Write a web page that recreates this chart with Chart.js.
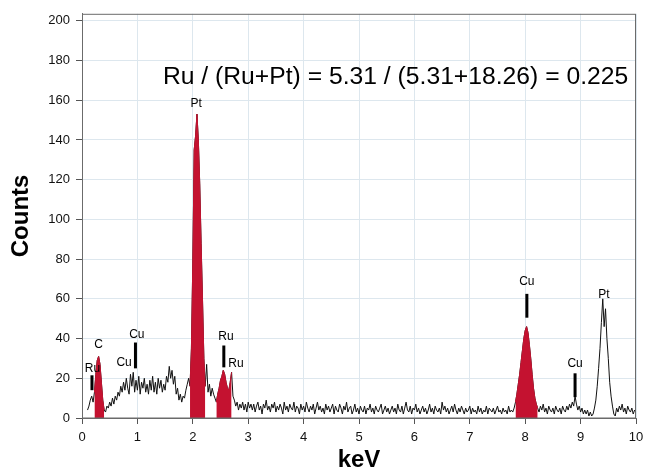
<!DOCTYPE html>
<html>
<head>
<meta charset="utf-8">
<title>EDS spectrum</title>
<script src="https://cdn.jsdelivr.net/npm/chart.js@4.4.1/dist/chart.umd.min.js"></script>
<style>
  body { margin: 0; background: #fff; }
  canvas { display: block; }
</style>
</head>
<body>
<canvas id="edsChart" width="650" height="472"></canvas>
<script>
// spectrum channels: energy of first channel and channel width (keV)
const energyStart = 0.1;
const energyStep = 0.025;

// counts per channel, one row = 0.5 keV
const counts = [
    4, 6, 9, 11, 8, 13, 22, 29, 31, 27, 18, 9, 4, 3, 6, 5, 8, 6, 10, 7,            // 0.10
    11, 9, 13, 11, 16, 13, 18, 14, 20, 15, 12, 22, 16, 23, 13, 19, 14, 21, 12, 18, // 0.60
    15, 20, 13, 17, 12, 19, 14, 21, 13, 18, 12, 20, 15, 19, 13, 17, 14, 21, 18, 26, // 1.10
    20, 24, 17, 21, 12, 15, 9, 12, 8, 11, 10, 14, 17, 20, 16, 35, 78, 135, 142, 153, // 1.60
    140, 118, 88, 60, 30, 16, 27, 13, 17, 11, 15, 12, 10, 8, 12, 15, 19, 21, 24, 22, // 2.10
    18, 15, 14, 18, 23, 11, 9, 6, 8, 4, 7, 5, 8, 4, 7, 3, 8, 5, 7, 4,              // 2.60
    7, 3, 6, 8, 4, 6, 2, 7, 5, 9, 4, 6, 3, 7, 5, 8, 3, 6, 4, 7,                    // 3.10
    5, 2, 8, 4, 6, 3, 7, 5, 4, 8, 3, 6, 5, 2, 7, 4, 6, 3, 8, 5,                    // 3.60
    3, 6, 4, 7, 2, 5, 8, 4, 6, 3, 5, 2, 7, 4, 6, 3, 5, 7, 2, 6,                    // 4.10
    4, 3, 7, 5, 2, 6, 4, 8, 3, 5, 6, 2, 4, 7, 3, 5, 2, 6, 4, 3,                    // 4.60
    6, 2, 5, 4, 7, 3, 5, 2, 6, 4, 3, 5, 7, 2, 4, 6, 3, 5, 2, 4,                    // 5.10
    6, 3, 5, 2, 7, 4, 3, 6, 2, 5, 8, 4, 3, 6, 2, 5, 4, 7, 3, 5,                    // 5.60
    2, 4, 6, 3, 5, 2, 4, 7, 3, 5, 2, 6, 4, 3, 5, 2, 8, 4, 6, 3,                    // 6.10
    5, 2, 4, 6, 3, 7, 4, 2, 5, 3, 6, 4, 2, 5, 3, 4, 6, 2, 5, 3,                    // 6.60
    4, 2, 6, 3, 5, 2, 4, 3, 6, 2, 5, 4, 3, 5, 2, 4, 6, 3, 4, 2,                    // 7.10
    5, 3, 4, 2, 6, 3, 4, 3, 5, 8, 12, 17, 22, 28, 34, 40, 44, 46, 43, 37,          // 7.60
    30, 22, 15, 10, 7, 5, 3, 6, 4, 7, 3, 5, 2, 6, 4, 3, 5, 2, 6, 4,                // 8.10
    3, 5, 2, 6, 4, 3, 6, 4, 7, 5, 8, 6, 11, 7, 4, 6, 3, 5, 2, 4,                   // 8.60
    2, 4, 1, 3, 1, 2, 5, 9, 16, 25, 35, 48, 60, 46, 55, 40, 30, 18, 11, 6,         // 9.10
    2, 1, 5, 3, 6, 4, 7, 3, 5, 2, 6, 4, 3, 5, 2, 4, 3                               // 9.60
];

// integrated peak windows (keV) shown in red
const peakWindows = [[0.225, 0.4], [1.95, 2.225], [2.425, 2.7], [7.825, 8.225]];

// element labels: [text, keV, counts]
const peakLabels = [
    ['Ru', 0.19, 25], ['C', 0.3, 37], ['Cu', 0.76, 28], ['Cu', 0.99, 42],
    ['Pt', 2.06, 158], ['Ru', 2.6, 41], ['Ru', 2.78, 27.5],
    ['Cu', 8.03, 68.5], ['Cu', 8.9, 27.5], ['Pt', 9.42, 62]
];

// line marker bars: [keV, top count, bottom count]
const lineMarkers = [
    [0.18, 21.5, 14], [0.965, 38, 25], [2.56, 36.5, 25.5], [8.03, 62.5, 50.5], [8.9, 22.5, 10.5]
];

// ratio note, spanning these energies at this count level
const ratioText = 'Ru / (Ru+Pt) = 5.31 / (5.31+18.26) = 0.225';
const ratioSpan = [1.46, 9.86];
const ratioLevel = 171.5;

const xTickValues = [0, 1, 2, 3, 4, 5, 6, 7, 8, 9, 10];
const yTickValues = [0, 20, 40, 60, 80, 100, 120, 140, 160, 180, 200];

const FONT = '"Liberation Sans", Arial, sans-serif';

const spectrum = counts.map((c, i) => ({
    x: Math.round((energyStart + i * energyStep) * 1000) / 1000,
    y: c
}));

const redSets = peakWindows.map(([a, b]) => ({
    data: spectrum.filter(p => p.x >= a - 1e-6 && p.x <= b + 1e-6),
    borderColor: '#c41230',
    backgroundColor: '#c41230',
    borderWidth: 1,
    pointRadius: 0,
    fill: 'origin',
    order: 1
}));

// frame, element labels, marker bars and the ratio text
const annotations = {
    id: 'annotations',
    afterDatasetsDraw(chart) {
        const { ctx, chartArea, scales: { x, y } } = chart;
        ctx.save();
        ctx.strokeStyle = '#6b6b6b';
        ctx.lineWidth = 1;
        ctx.strokeRect(chartArea.left + 0.5, chartArea.top + 0.5, chartArea.width - 1, chartArea.height - 0.5);

        ctx.fillStyle = '#000';
        lineMarkers.forEach(([kev, top, bottom]) => {
            const px = x.getPixelForValue(kev);
            const y1 = y.getPixelForValue(top);
            const y2 = y.getPixelForValue(bottom);
            ctx.fillRect(px - 1.5, y1, 3, y2 - y1);
        });

        ctx.font = '12px ' + FONT;
        ctx.textAlign = 'center';
        ctx.textBaseline = 'middle';
        peakLabels.forEach(([text, kev, c]) => {
            ctx.fillText(text, x.getPixelForValue(kev), y.getPixelForValue(c));
        });

        // the note is drawn a little wider than the plain font
        ctx.font = '23px ' + FONT;
        ctx.textAlign = 'left';
        const left = x.getPixelForValue(ratioSpan[0]);
        const want = x.getPixelForValue(ratioSpan[1]) - left;
        const stretch = want / ctx.measureText(ratioText).width;
        ctx.translate(left, y.getPixelForValue(ratioLevel));
        ctx.scale(stretch, 1);
        ctx.fillText(ratioText, 0, 0);
        ctx.restore();
    }
};

new Chart(document.getElementById('edsChart'), {
    type: 'line',
    data: {
        datasets: [{
            data: spectrum,
            borderColor: '#111',
            borderWidth: 1,
            pointRadius: 0,
            fill: false,
            order: 2
        }, ...redSets]
    },
    options: {
        responsive: false,
        animation: false,
        layout: { padding: { top: 12, right: 14, left: 0, bottom: 0 } },
        plugins: {
            legend: { display: false },
            tooltip: { enabled: false }
        },
        scales: {
            x: {
                type: 'linear',
                min: 0,
                max: 10,
                afterBuildTicks: s => { s.ticks = xTickValues.map(v => ({ value: v })); },
                afterFit: s => { s.height = 54; },
                grid: { color: '#dde7ee', tickColor: '#555', tickLength: 6 },
                border: { color: '#6b6b6b' },
                ticks: { color: '#111', padding: 6, maxRotation: 0, autoSkip: false, font: { size: 13, family: FONT } },
                title: {
                    display: true,
                    text: 'keV',
                    color: '#000',
                    padding: 0,
                    font: { size: 24, weight: 'bold', family: FONT, lineHeight: 1 }
                }
            },
            y: {
                min: 0,
                max: 203.5,
                afterBuildTicks: s => { s.ticks = yTickValues.map(v => ({ value: v })); },
                afterFit: s => { s.width = 82; },
                grid: { color: '#dde7ee', tickColor: '#555', tickLength: 6 },
                border: { color: '#6b6b6b' },
                ticks: { color: '#111', padding: 6, font: { size: 13, family: FONT } },
                title: {
                    display: true,
                    text: 'Counts',
                    color: '#000',
                    padding: { top: 7, bottom: 0 },
                    font: { size: 24, weight: 'bold', family: FONT }
                }
            }
        }
    },
    plugins: [annotations]
});
</script>
</body>
</html>
